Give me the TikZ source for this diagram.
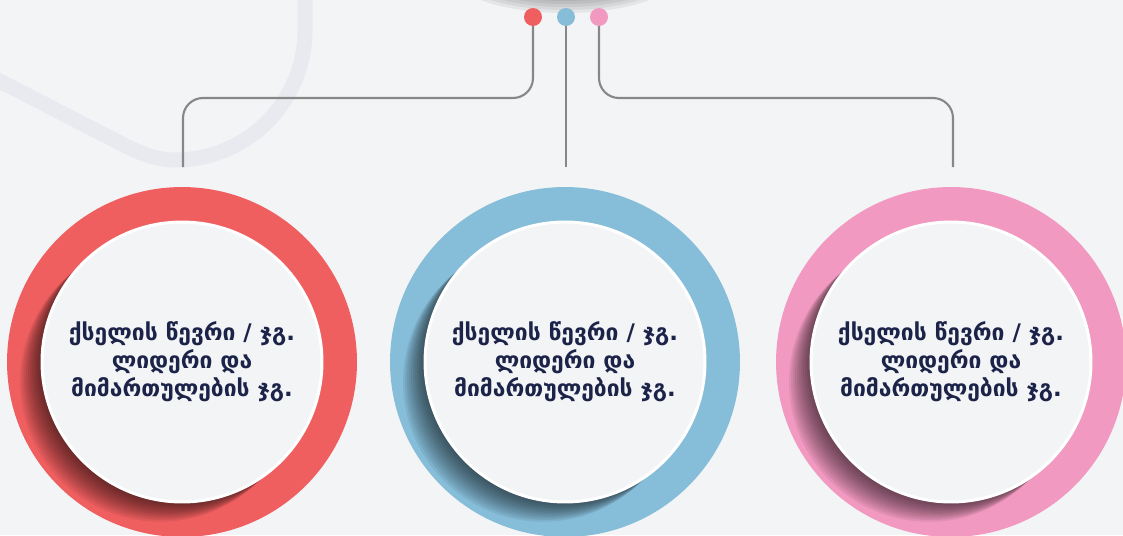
\documentclass[tikz,border=0pt]{standalone}
\usepackage{fontspec}
\newfontfamily\geofont{DejaVu Sans}
\usepackage{tikz}
\usetikzlibrary{shapes,arrows.meta}

\definecolor{canvas}{HTML}{F3F4F6}
\definecolor{swirl}{HTML}{E9EAF0}
\definecolor{wire}{HTML}{878787}
\definecolor{ringRed}{HTML}{F05F60}
\definecolor{ringBlue}{HTML}{86BDD9}
\definecolor{ringPink}{HTML}{F199C0}
\definecolor{ink}{HTML}{1B2348}

\begin{document}
\begin{tikzpicture}[x=0.02cm,y=-0.02cm]
			\useasboundingbox[fill=canvas] (0,0) rectangle (1123,535);
			\draw[swirl, line width=0.3cm] (-10,76) -- (120,143) .. controls (145,156) and (160,160) .. (175,160)
				.. controls (247,160) and (305,102) .. (305,30) -- (305,-10);
			\foreach \k in {0,...,6}
				\fill[black, opacity=0.06] (565,-25) ellipse[x radius={112-6*\k}, y radius={38-3*\k}];
			\begin{scope}
				[
					styleDot/.style={circle, minimum size=0.36cm, inner sep=0pt},
					styleRing/.style={circle, minimum size=7cm, inner sep=0pt},
					styleCore/.style={
						circle, minimum size=5.6cm, inner sep=0pt, fill=canvas,
						draw=white, line width=1.7pt, text=ink, align=center,
						font=\geofont\bfseries\fontsize{13}{16}\selectfont
						},
					link/.style={wire, line width=1.2pt, rounded corners=0.4cm},
				]
				\coordinate(bus) at (0,98);
				\coordinate(redtip) at (183,167);
				\coordinate(bluetip) at (566,167);
				\coordinate(pinktip) at (953,167);

				\node(reddot)[styleDot] at (533,17) {};
				\node(bluedot)[styleDot] at (566,17) {};
				\node(pinkdot)[styleDot] at (599,17) {};

				\draw[link] (reddot.center) -- (reddot |- bus) -- (redtip |- bus) -- (redtip);
				\draw[link] (bluedot.center) -- (bluetip);
				\draw[link] (pinkdot.center) -- (pinkdot |- bus) -- (pinktip |- bus) -- (pinktip);

				\fill[ringRed] (reddot) circle[radius=0.18cm];
				\fill[ringBlue] (bluedot) circle[radius=0.18cm];
				\fill[ringPink] (pinkdot) circle[radius=0.18cm];

				\node(redring)[styleRing, fill=ringRed] at (182,362) {};
				\node(bluering)[styleRing, fill=ringBlue] at (565,362) {};
				\node(pinkring)[styleRing, fill=ringPink] at (951,362) {};

				\foreach \ring in {redring,bluering,pinkring}{
					\begin{scope}
						\clip (\ring.center) circle[radius=3.5cm];
						\foreach \i in {1,...,11}
							\fill[black, opacity=0.065, shift={(\ring.center)}] (-2*\i,1.8*\i) circle[radius=2.8cm];
					\end{scope}
				}

				\node(redcore)[styleCore] at (redring) {ქსელის წევრი / ჯგ.\\ლიდერი და\\მიმართულების ჯგ.};
				\node(bluecore)[styleCore] at (bluering) {ქსელის წევრი / ჯგ.\\ლიდერი და\\მიმართულების ჯგ.};
				\node(pinkcore)[styleCore] at (pinkring) {ქსელის წევრი / ჯგ.\\ლიდერი და\\მიმართულების ჯგ.};
			\end{scope}
		\end{tikzpicture}
\end{document}
